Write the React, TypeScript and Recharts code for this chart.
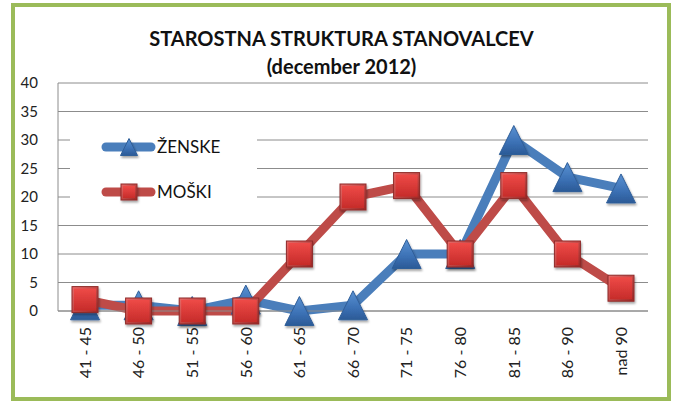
import React from "react";
import { LineChart, Line, XAxis, YAxis, CartesianGrid } from "recharts";

const categories = ["41 - 45", "46 - 50", "51 - 55", "56 - 60", "61 - 65", "66 - 70", "71 - 75", "76 - 80", "81 - 85", "86 - 90", "nad 90"];
const zenske = [1, 1, 0, 2, 0, 1, 10, 10, 30, 23.5, 21.5];
const moski = [2, 0, 0, 0, 10, 20, 22, 10, 22, 10, 4];
const yTicks = [0, 5, 10, 15, 20, 25, 30, 35, 40];

const data = categories.map((c, i) => ({ cat: c, zenske: zenske[i], moski: moski[i] }));

const FONT = "Lato, 'Liberation Sans', sans-serif";
const BLUE = "#4A7EBB";
const RED = "#BE4B48";

const Defs = () => (
  <defs>
    <linearGradient id="triGrad" x1="0" y1="0" x2="0" y2="1">
      <stop offset="0%" stopColor="#5A92D3" />
      <stop offset="60%" stopColor="#3B70B4" />
      <stop offset="100%" stopColor="#2B5A96" />
    </linearGradient>
    <linearGradient id="sqGrad" x1="0" y1="0" x2="1" y2="1">
      <stop offset="0%" stopColor="#E86B69" />
      <stop offset="100%" stopColor="#9C2725" />
    </linearGradient>
    <linearGradient id="sqInner" x1="0" y1="0" x2="0" y2="1">
      <stop offset="0%" stopColor="#EE4A47" />
      <stop offset="100%" stopColor="#C62C2A" />
    </linearGradient>
    <filter id="shadow" x="-30%" y="-30%" width="160%" height="160%">
      <feDropShadow dx="1" dy="2" stdDeviation="1.2" floodColor="#000" floodOpacity="0.35" />
    </filter>
  </defs>
);

const Triangle = (props: any) => {
  const { cx, cy, size = 29 } = props;
  if (cx == null || cy == null) return null;
  const h = size / 2;
  return (
    <g filter="url(#shadow)">
      <polygon
        points={`${cx},${cy - h} ${cx - h},${cy + h} ${cx + h},${cy + h}`}
        fill="url(#triGrad)"
        stroke="#2F5E99"
        strokeWidth={1}
        strokeLinejoin="round"
      />
    </g>
  );
};

const Square = (props: any) => {
  const { cx, cy, size = 26 } = props;
  if (cx == null || cy == null) return null;
  const h = size / 2;
  return (
    <g filter="url(#shadow)">
      <rect x={cx - h} y={cy - h} width={size} height={size} fill="url(#sqGrad)" stroke="#8E2A28" strokeWidth={1} />
      <rect x={cx - h + 2} y={cy - h + 2} width={size - 4} height={size - 4} fill="url(#sqInner)" />
    </g>
  );
};

const XTick = (props: any) => {
  const { x, y, payload } = props;
  return (
    <text
      x={x}
      y={y + 8}
      transform={`rotate(-90, ${x}, ${y + 8})`}
      textAnchor="end"
      dy="0.36em"
      fontSize={16}
      fontFamily={FONT}
      fill="#222"
    >
      {payload.value}
    </text>
  );
};

const LegendBox = () => (
  <svg width={187} height={82} style={{ position: "absolute", left: 70, top: 124, background: "#fff" }}>
    <line x1={36} y1={23} x2={81} y2={23} stroke={BLUE} strokeWidth={9} strokeLinecap="round" />
    <Triangle cx={59} cy={23} size={17} />
    <line x1={36} y1={68} x2={81} y2={68} stroke={RED} strokeWidth={9} strokeLinecap="round" />
    <Square cx={59} cy={68} size={16} />
    <text x={87} y={23} dy="0.36em" fontSize={17} fontFamily={FONT} fill="#111">ŽENSKE</text>
    <text x={87} y={68} dy="0.36em" fontSize={17} fontFamily={FONT} fill="#111">MOŠKI</text>
  </svg>
);

export default function App() {
  return (
    <div style={{ position: "absolute", left: 0, top: 0, width: 673, height: 403, background: "#fff" }}>
      <svg width={0} height={0} style={{ position: "absolute" }}>
        <Defs />
      </svg>
      <div
        style={{
          position: "absolute",
          left: 11,
          top: 3,
          width: 660,
          height: 398,
          boxSizing: "border-box",
          border: "4px solid #9BBB59",
        }}
      />
      <div
        style={{
          position: "absolute",
          left: 0,
          width: 673,
          top: 24,
          textAlign: "center",
          fontFamily: FONT,
          fontWeight: 700,
          fontSize: 20,
          lineHeight: "28px",
          color: "#111",
          paddingLeft: 10,
          boxSizing: "border-box",
        }}
      >
        <div>STAROSTNA STRUKTURA STANOVALCEV</div>
        <div>(december 2012)</div>
      </div>
      <div style={{ position: "absolute", left: 0, top: 0 }}>
        <LineChart width={673} height={403} data={data} margin={{ top: 83, right: 25, bottom: 0, left: 0 }}>
          <Defs />
          <CartesianGrid vertical={false} stroke="#8C8C8C" strokeWidth={1} />
          <XAxis
            dataKey="cat"
            height={92}
            interval={0}
            padding={{ left: 27, right: 27 }}
            tick={<XTick />}
            tickLine={false}
            axisLine={{ stroke: "#8C8C8C" }}
          />
          <YAxis
            width={58}
            domain={[0, 40]}
            ticks={yTicks}
            interval={0}
            tickLine={false}
            axisLine={{ stroke: "#8C8C8C" }}
            tick={{ fontSize: 15, fontFamily: FONT, fill: "#222" }}
            tickMargin={14}
          />
          <Line
            type="linear"
            dataKey="zenske"
            name="ŽENSKE"
            stroke={BLUE}
            strokeWidth={9}
            strokeLinejoin="round"
            dot={<Triangle />}
            activeDot={false}
            isAnimationActive={false}
          />
          <Line
            type="linear"
            dataKey="moski"
            name="MOŠKI"
            stroke={RED}
            strokeWidth={9}
            strokeLinejoin="round"
            dot={<Square />}
            activeDot={false}
            isAnimationActive={false}
          />
        </LineChart>
      </div>
      <LegendBox />
    </div>
  );
}
